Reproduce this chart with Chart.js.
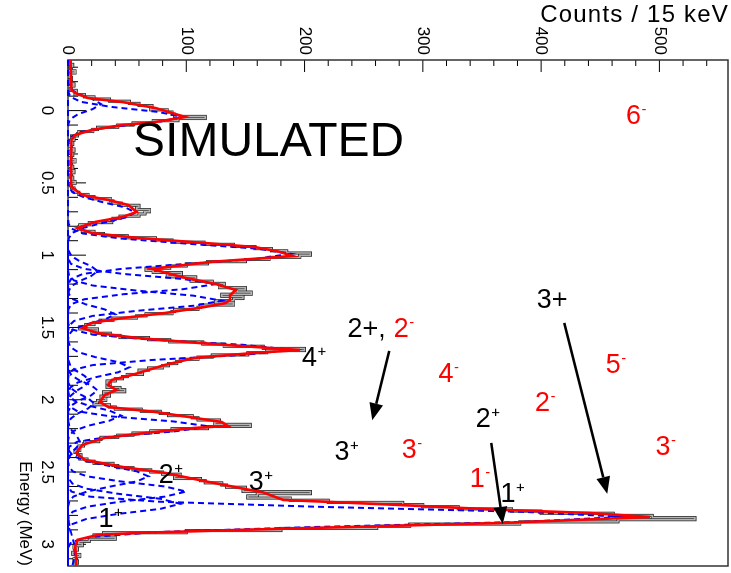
<!DOCTYPE html>
<html>
<head>
<meta charset="utf-8">
<script src="https://cdn.jsdelivr.net/npm/chart.js@4.4.0/dist/chart.umd.min.js"></script>
<style>
  html, body { margin: 0; padding: 0; background: #fff; overflow: hidden; }
  /* The spectrum is built energy-along-x, then turned a quarter turn so energy runs downward */
  #wrap { position: absolute; left: 0; top: 0; width: 573px; height: 731px;
          transform-origin: 0 0; transform: translateX(731px) rotate(90deg); }
  canvas { display: block; }
</style>
</head>
<body>
<div id="wrap"><canvas id="spec" width="573" height="731" style="width:573px;height:731px"></canvas></div>
<script>
// ---- histogram: 15 keV bins starting at -0.35 MeV ----
const binLow = -0.35;
const binWidth = 0.015;
const histCounts = [
  2, 1, 4, 2, 3, 6, 2, 1, 3, 2,
  2, 5, 3, 2, 7, 6, 14, 22, 35, 52,
  60, 71, 70, 84, 88, 90, 116, 93, 72, 55,
  42, 25, 21, 9, 8, 3, 5, 2, 4, 1,
  3, 5, 2, 4, 3, 1, 6, 2, 3, 4,
  2, 5, 3, 2, 4, 3, 6, 2, 3, 5,
  6, 9, 17, 22, 36, 38, 45, 60, 58, 69,
  65, 60, 44, 38, 37, 18, 10, 9, 12, 22,
  30, 50, 74, 88, 115, 140, 158, 172, 185, 205,
  196, 170, 150, 118, 100, 86, 66, 72, 96, 84,
  108, 104, 122, 132, 128, 150, 143, 155, 130, 148,
  140, 125, 140, 112, 110, 90, 88, 66, 58, 38,
  27, 22, 15, 10, 25, 20, 36, 44, 68, 86,
  114, 132, 165, 200, 168, 152, 122, 110, 95, 92,
  85, 80, 68, 60, 63, 50, 46, 40, 33, 36,
  33, 44, 48, 30, 35, 28, 32, 25, 22, 35,
  40, 62, 78, 85, 105, 110, 128, 124, 154, 118,
  88, 70, 55, 42, 28, 26, 14, 13, 9, 10,
  6, 8, 11, 10, 16, 22, 38, 42, 55, 70,
  80, 95, 90, 112, 116, 130, 134, 150, 148, 205,
  160, 152, 188, 220, 283, 300, 330, 375, 400, 461,
  494, 530, 465, 382, 289, 261, 180, 100, 30, 22,
  40, 18, 9, 12, 5, 8, 6, 4, 10, 7,
  5, 8, 6
];

// ---- total fit (red) ----
const fitEnergy = [
  -0.35, -0.142, -0.122, -0.087, -0.059, -0.018, 0.044, 0.079, 0.100, 0.134,
  0.169, 0.203, 0.48, 0.528, 0.584, 0.618, 0.653, 0.701, 0.736, 0.770,
  0.812, 0.847, 0.881, 0.916, 0.944, 0.975, 1.006, 1.047, 1.095, 1.151,
  1.200, 1.241, 1.276, 1.310, 1.332, 1.358, 1.400, 1.435, 1.469, 1.504,
  1.539, 1.573, 1.607, 1.635, 1.656, 1.676, 1.711, 1.759, 1.794, 1.829,
  1.863, 1.898, 1.933, 1.967, 2.015, 2.050, 2.085, 2.119, 2.154, 2.181,
  2.195, 2.230, 2.264, 2.313, 2.368, 2.416, 2.465, 2.506, 2.564, 2.613,
  2.641, 2.693, 2.728, 2.762, 2.783, 2.811, 2.831, 2.852, 2.873, 2.900,
  2.921, 2.935, 2.969, 3.017, 3.107, 3.15
];
const fitCounts = [
  2, 3, 6, 17, 46, 74, 99, 74, 46, 20,
  6, 3, 2.5, 3, 12, 34, 51, 58, 46, 23,
  8, 20, 59, 116, 158, 178, 190, 120, 71, 96,
  125, 142, 137, 137, 133, 116, 82, 46, 20, 12,
  25, 59, 110, 158, 196, 158, 107, 82, 68, 54,
  37, 34, 41, 31, 27, 34, 74, 102, 130, 135,
  107, 65, 31, 12, 7, 14, 46, 82, 116, 147,
  165, 182, 280, 368, 440, 492, 430, 368, 270, 146,
  60, 25, 8, 6, 7, 7
];

// ---- individual peak components (blue dashed), [energy MeV, counts] ----
const gaus01 = [[-0.22,0],[-0.185,0.2],[-0.15,1.8],[-0.115,8.4],[-0.08,20.7],[-0.045,28],[-0.01,20.7],[0.025,8.4],[0.06,1.8],[0.095,0.2],[0.13,0]];
const gaus02 = [[-0.166,0],[-0.131,0.2],[-0.096,1.9],[-0.061,10.7],[-0.026,36],[0.009,76],[0.044,97],[0.079,76],[0.114,36],[0.149,10.7],[0.184,1.9],[0.219,0.2],[0.254,0]];
const gaus03 = [[0.46,0],[0.495,0.1],[0.53,0.8],[0.565,3.8],[0.60,13.7],[0.635,30],[0.67,48.5],[0.705,57],[0.74,48.5],[0.775,30],[0.81,13.7],[0.845,3.8],[0.88,0.8],[0.915,0.1],[0.95,0]];
const gaus04 = [[0.745,0],[0.78,0.4],[0.815,2.6],[0.85,12.4],[0.885,45],[0.92,100],[0.955,160],[0.99,188],[1.025,160],[1.06,100],[1.095,45],[1.13,12.4],[1.165,2.6],[1.20,0.4],[1.235,0]];
const gaus05 = [[0.935,0],[0.97,0.5],[1.005,2.8],[1.04,9.4],[1.075,19.5],[1.11,25],[1.145,19.5],[1.18,9.4],[1.215,2.8],[1.25,0.5],[1.285,0]];
const gaus06 = [[0.99,0],[1.025,0.3],[1.06,2.5],[1.095,13.8],[1.13,47],[1.165,97.5],[1.20,125],[1.235,97.5],[1.27,47],[1.305,13.8],[1.34,2.5],[1.375,0.3],[1.41,0]];
const gaus07 = [[1.105,0],[1.14,0.8],[1.175,5],[1.21,21],[1.245,58],[1.28,106],[1.315,130],[1.35,106],[1.385,58],[1.42,21],[1.455,5],[1.49,0.8],[1.525,0]];
const gaus08 = [[1.235,0],[1.27,0.8],[1.305,4.4],[1.34,15],[1.375,31],[1.41,40],[1.445,31],[1.48,15],[1.515,4.4],[1.55,0.8],[1.585,0]];
const gaus09 = [[1.445,0],[1.48,0.4],[1.515,3.8],[1.55,21],[1.585,71],[1.62,148],[1.655,190],[1.69,148],[1.725,71],[1.76,21],[1.795,3.8],[1.83,0.4],[1.865,0]];
const gaus10 = [[1.565,0],[1.60,0.3],[1.635,2],[1.67,8.4],[1.705,23],[1.74,42.5],[1.775,52],[1.81,42.5],[1.845,23],[1.88,8.4],[1.915,2],[1.95,0.3],[1.985,0]];
const gaus11 = [[1.695,0],[1.73,0.4],[1.765,2],[1.80,6.8],[1.835,14],[1.87,18],[1.905,14],[1.94,6.8],[1.975,2],[2.01,0.4],[2.045,0]];
const gaus12 = [[1.76,0],[1.795,0.5],[1.83,2.8],[1.865,9.4],[1.90,19.5],[1.935,25],[1.97,19.5],[2.005,9.4],[2.04,2.8],[2.075,0.5],[2.11,0]];
const gaus13 = [[1.85,0],[1.885,0.4],[1.92,2.4],[1.955,8.3],[1.99,17],[2.025,22],[2.06,17],[2.095,8.3],[2.13,2.4],[2.165,0.4],[2.20,0]];
const gaus14 = [[1.935,0],[1.97,0.9],[2.005,5],[2.04,17],[2.075,35],[2.11,45],[2.145,35],[2.18,17],[2.215,5],[2.25,0.9],[2.285,0]];
const gaus15 = [[2.01,0],[2.045,1],[2.08,8],[2.115,36],[2.15,89],[2.185,120],[2.22,89],[2.255,36],[2.29,8],[2.325,1],[2.36,0]];
const gaus16 = [[2.115,0],[2.15,0.2],[2.185,1.1],[2.22,3.8],[2.255,7.8],[2.29,10],[2.325,7.8],[2.36,3.8],[2.395,1.1],[2.43,0.2],[2.465,0]];
const gaus17 = [[2.285,0],[2.32,0.1],[2.355,1],[2.39,4.5],[2.425,16],[2.46,36],[2.495,58],[2.53,68],[2.565,58],[2.60,36],[2.635,16],[2.67,4.5],[2.705,1],[2.74,0.1],[2.775,0]];
const gaus18 = [[2.425,0],[2.46,0.6],[2.495,3.9],[2.53,16.2],[2.565,44.5],[2.60,82],[2.635,100],[2.67,82],[2.705,44.5],[2.74,16.2],[2.775,3.9],[2.81,0.6],[2.845,0]];
const gaus19 = [[2.51,0],[2.545,0.6],[2.58,3.7],[2.615,15.4],[2.65,42],[2.685,78],[2.72,95],[2.755,78],[2.79,42],[2.825,15.4],[2.86,3.7],[2.895,0.6],[2.93,0]];
const gaus20 = [[2.565,0],[2.60,0.3],[2.635,2.8],[2.67,18.3],[2.705,76],[2.74,209],[2.775,384],[2.81,470],[2.845,384],[2.88,209],[2.915,76],[2.95,18.3],[2.985,2.8],[3.02,0.3],[3.055,0]];
const gaus21 = [[2.80,0],[2.85,0.8],[2.90,2],[2.95,3.6],[3.0,5.3],[3.05,6],[3.10,5.3],[3.15,3.6]];
const components = [gaus01, gaus02, gaus03, gaus04, gaus05, gaus06, gaus07, gaus08, gaus09, gaus10,
                    gaus11, gaus12, gaus13, gaus14, gaus15, gaus16, gaus17, gaus18, gaus19, gaus20, gaus21];

// ---- axes ----
const energyMin = -0.35, energyMax = 3.15;
const countsMin = 0, countsMax = 558;
const energyTicks = [0, 0.5, 1, 1.5, 2, 2.5, 3];
const energyTickLabels = ['0', '0.5', '1', '1.5', '2', '2.5', '3'];
const countTicks = [0, 100, 200, 300, 400, 500];
const countTickLabels = ['0', '100', '200', '300', '400', '500'];

// ---- spin/parity labels, anchored at [energy, counts] ----
const RED = '#ff0000', BLACK = '#000000';
const spinLabels = [
  { e: 0.095, n: 473, parts: [{ t: '6', c: RED }, { t: '-', c: RED, sup: true }] },
  { e: 1.566, n: 237.5, parts: [{ t: '2+, ', c: BLACK }, { t: '2', c: RED }, { t: '-', c: RED, sup: true }] },
  { e: 1.766, n: 199, parts: [{ t: '4', c: BLACK }, { t: '+', c: BLACK, sup: true }] },
  { e: 1.877, n: 314.5, parts: [{ t: '4', c: RED }, { t: '-', c: RED, sup: true }] },
  { e: 1.815, n: 456, parts: [{ t: '5', c: RED }, { t: '-', c: RED, sup: true }] },
  { e: 1.365, n: 397.5, parts: [{ t: '3+', c: BLACK }] },
  { e: 2.077, n: 396, parts: [{ t: '2', c: RED }, { t: '-', c: RED, sup: true }] },
  { e: 2.188, n: 346, parts: [{ t: '2', c: BLACK }, { t: '+', c: BLACK, sup: true }] },
  { e: 2.416, n: 226.5, parts: [{ t: '3', c: BLACK }, { t: '+', c: BLACK, sup: true }] },
  { e: 2.402, n: 283.5, parts: [{ t: '3', c: RED }, { t: '-', c: RED, sup: true }] },
  { e: 2.382, n: 498, parts: [{ t: '3', c: RED }, { t: '-', c: RED, sup: true }] },
  { e: 2.603, n: 341, parts: [{ t: '1', c: RED }, { t: '-', c: RED, sup: true }] },
  { e: 2.707, n: 367, parts: [{ t: '1', c: BLACK }, { t: '+', c: BLACK, sup: true }] },
  { e: 2.624, n: 154, parts: [{ t: '3', c: BLACK }, { t: '+', c: BLACK, sup: true }] },
  { e: 2.575, n: 78, parts: [{ t: '2', c: BLACK }, { t: '+', c: BLACK, sup: true }] },
  { e: 2.88, n: 27, parts: [{ t: '1', c: BLACK }, { t: '+', c: BLACK, sup: true }] }
];
const arrows = [
  { from: [1.6625, 271.6], to: [2.142, 257.2] },
  { from: [1.4689, 419.6], to: [2.651, 456] },
  { from: [2.2988, 357.9], to: [2.8589, 367.6] }
];
const FONT = '"Liberation Sans", Arial, Helvetica, sans-serif';

// ---- datasets ----
const histPoints = histCounts.map((v, i) => ({ x: binLow + i * binWidth, y: v }));
histPoints.push({ x: binLow + histCounts.length * binWidth, y: histCounts[histCounts.length - 1] });

const fitPoints = fitEnergy.map((e, i) => ({ x: e, y: fitCounts[i] }));

function componentPoints(list) {
  const pts = [];
  if (list[0][0] > energyMin) pts.push({ x: energyMin, y: 0 });
  list.forEach(p => pts.push({ x: p[0], y: p[1] }));
  if (list[list.length - 1][0] < energyMax) pts.push({ x: energyMax, y: 0 });
  return pts;
}

const datasets = [
  { label: 'fit', data: fitPoints, borderColor: RED, borderWidth: 2.6, order: 0 }
];
components.forEach((c, i) => datasets.push({
  label: 'peak ' + (i + 1), data: componentPoints(c), borderColor: '#0000ff',
  borderWidth: 2, borderDash: [6, 4], order: 1, clip: false
}));
datasets.push({ label: 'data', data: histPoints, borderColor: '#1a1a1a', borderWidth: 3, stepped: true, order: 3 });
datasets.push({ label: 'data fill', data: histPoints, borderColor: '#b4b4b4', borderWidth: 1.6, stepped: true, order: 2 });
datasets.forEach(d => { d.pointRadius = 0; d.tension = 0; d.fill = false; });

// keep the plot frame exactly where the axes put it
function noScalePadding(s) {
  s.paddingTop = 0; s.paddingBottom = 0; s.paddingLeft = 0; s.paddingRight = 0;
}

// frame and inward tick marks
const framePlugin = {
  id: 'frame',
  beforeDatasetsDraw(chart) {
    const { ctx, chartArea: a, scales: { x, y } } = chart;
    ctx.save();
    ctx.strokeStyle = '#000';
    ctx.lineWidth = 1;
    ctx.beginPath();
    for (let k = -3; k <= 31; k++) {
      const px = x.getPixelForValue(k / 10);
      const len = (k % 5 === 0) ? 18 : 10;
      ctx.moveTo(px, a.bottom);
      ctx.lineTo(px, a.bottom - len);
    }
    for (let v = 0; v <= countsMax; v += 20) {
      const py = y.getPixelForValue(v);
      const len = (v % 100 === 0) ? 12 : 6;
      ctx.moveTo(a.left, py);
      ctx.lineTo(a.left + len, py);
    }
    ctx.stroke();
    ctx.strokeStyle = '#333';
    ctx.lineWidth = 1.5;
    ctx.strokeRect(a.left, a.top, a.right - a.left, a.bottom - a.top);
    ctx.restore();
  }
};

// upright text and arrows, drawn in screen orientation
const notesPlugin = {
  id: 'notes',
  afterDatasetsDraw(chart) {
    const { ctx, scales: { x, y } } = chart;
    const r = chart.currentDevicePixelRatio || 1;
    const H = chart.height;
    const toScreen = (e, n) => [H - y.getPixelForValue(n), x.getPixelForValue(e)];
    ctx.save();
    ctx.setTransform(0, -r, r, 0, 0, H * r);
    ctx.textAlign = 'left';
    ctx.textBaseline = 'alphabetic';

    // caption inside the plot
    const [sx, sy] = toScreen(0.314, 56.7);
    ctx.font = '48px ' + FONT;
    ctx.fillStyle = '#000';
    ctx.fillText('SIMULATED', sx - 2, sy);

    // counts axis title, upright at the top right
    ctx.font = '24px ' + FONT;
    ctx.textAlign = 'right';
    if ('letterSpacing' in ctx) ctx.letterSpacing = '1.2px';
    ctx.fillText('Counts / 15 keV', 729, 22);
    if ('letterSpacing' in ctx) ctx.letterSpacing = '0px';
    ctx.textAlign = 'left';

    spinLabels.forEach(l => {
      let [px, py] = toScreen(l.e, l.n);
      px -= 1.5;
      l.parts.forEach(p => {
        const size = p.sup ? 15 : 27;
        ctx.font = size + 'px ' + FONT;
        ctx.fillStyle = p.c;
        ctx.fillText(p.t, px, p.sup ? py - 10 : py);
        px += ctx.measureText(p.t).width + (p.sup ? 0 : 0.5);
      });
    });

    ctx.strokeStyle = '#000';
    ctx.fillStyle = '#000';
    arrows.forEach(a => {
      const [x0, y0] = toScreen(a.from[0], a.from[1]);
      const [x1, y1] = toScreen(a.to[0], a.to[1]);
      const ang = Math.atan2(y1 - y0, x1 - x0);
      const L = 17, W = 7;
      const bx = x1 - L * Math.cos(ang), by = y1 - L * Math.sin(ang);
      ctx.lineWidth = 2.5;
      ctx.beginPath();
      ctx.moveTo(x0, y0);
      ctx.lineTo(bx, by);
      ctx.stroke();
      ctx.beginPath();
      ctx.moveTo(x1, y1);
      ctx.lineTo(bx - W * Math.sin(ang), by + W * Math.cos(ang));
      ctx.lineTo(bx + W * Math.sin(ang), by - W * Math.cos(ang));
      ctx.closePath();
      ctx.fill();
    });
    ctx.restore();
  }
};

new Chart(document.getElementById('spec'), {
  type: 'line',
  data: { datasets },
  options: {
    responsive: false,
    animation: false,
    events: [],
    layout: { padding: { top: 3, right: 7, left: 0, bottom: 0 } },
    plugins: { legend: { display: false }, tooltip: { enabled: false } },
    scales: {
      x: {
        type: 'linear', min: energyMin, max: energyMax,
        grid: { display: false, drawTicks: false }, border: { display: false },
        afterBuildTicks: s => { s.ticks = energyTicks.map(v => ({ value: v })); },
        afterFit: s => { s.height = 68; noScalePadding(s); },
        ticks: {
          maxRotation: 0, minRotation: 0, autoSkip: false, padding: 11, color: '#000',
          font: { family: FONT, size: 17 },
          callback: (v, i) => energyTickLabels[i]
        },
        title: {
          display: true, text: 'Energy (MeV)', align: 'end', color: '#000',
          font: { family: FONT, size: 17 }, padding: { top: 0, bottom: 14 }
        }
      },
      y: {
        type: 'linear', min: countsMin, max: countsMax,
        grid: { display: false, drawTicks: false }, border: { display: false },
        afterBuildTicks: s => { s.ticks = countTicks.map(v => ({ value: v })); },
        afterFit: s => { s.width = 60; noScalePadding(s); },
        ticks: {
          padding: 5, color: '#000', font: { family: FONT, size: 17 },
          callback: (v, i) => countTickLabels[i]
        }
      }
    }
  },
  plugins: [framePlugin, notesPlugin]
});
</script>
</body>
</html>
